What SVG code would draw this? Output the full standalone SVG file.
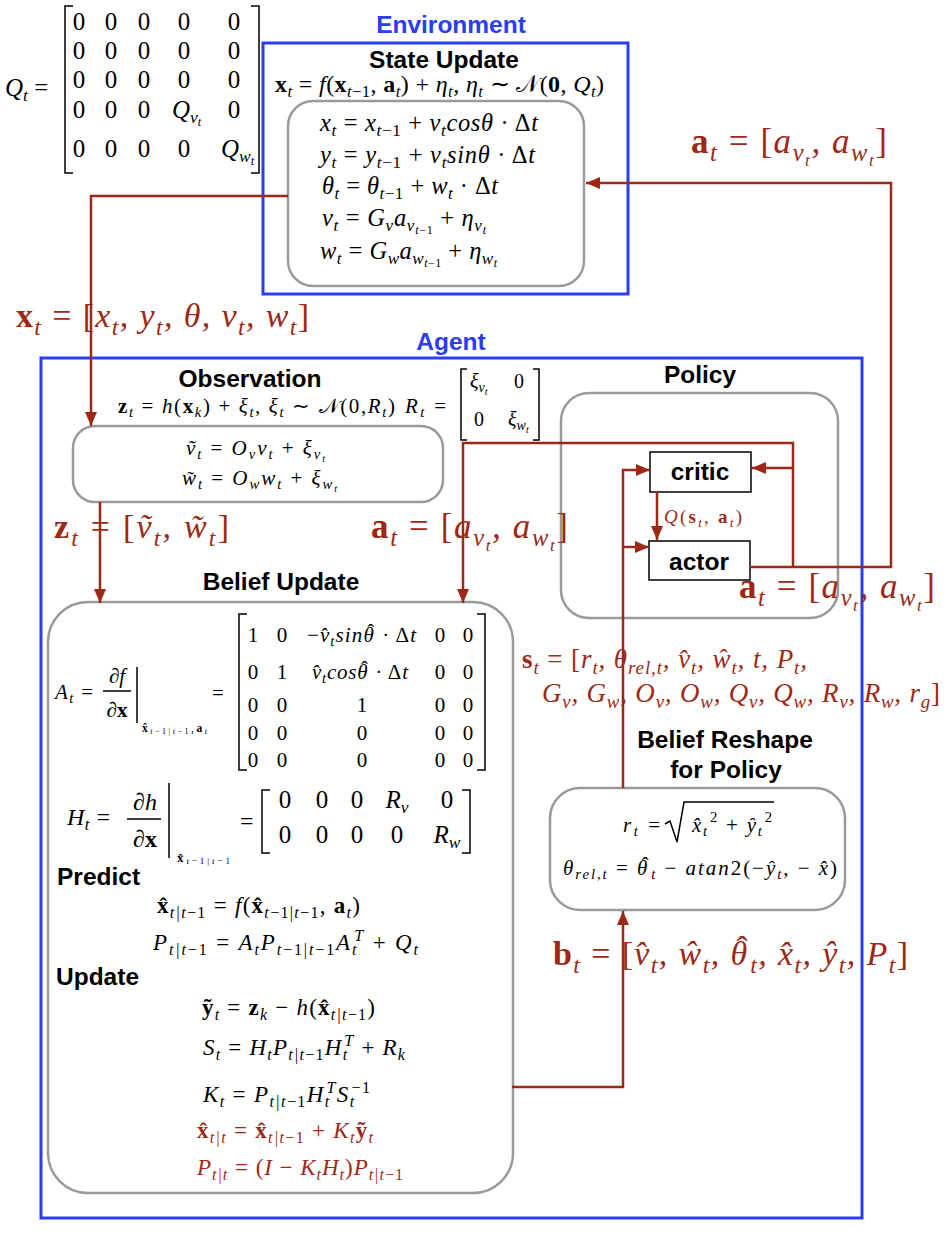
<svg xmlns="http://www.w3.org/2000/svg" width="952" height="1238" viewBox="0 0 952 1238">
<defs>
<style>
.m{font-family:"Liberation Serif","Times New Roman",serif;font-style:italic;fill:#000}
.u{font-style:normal}
.b{font-weight:bold;font-style:normal}
.s{font-size:70%}
.c{text-anchor:middle}
.red{fill:#9d2816}
.lbl{font-family:"Liberation Sans",Arial,sans-serif;font-weight:bold;font-size:24.5px;fill:#000;text-anchor:middle}
.blue{fill:#2b3cf2}
.env{fill:none;stroke:#2b3cf2;stroke-width:3}
.box{fill:none;stroke:#9a9a9a;stroke-width:2.5}
.con{fill:none;stroke:#9d2816;stroke-width:2.5}
.br{fill:none;stroke:#000;stroke-width:1.5}
.nb{fill:#fff;stroke:#000;stroke-width:1.5}
.cal{font-family:"DejaVu Serif","DejaVu Sans","Noto Sans",serif;font-style:normal}
</style>
<marker id="ah" markerUnits="userSpaceOnUse" markerWidth="14" markerHeight="12" refX="14" refY="6" orient="auto"><path d="M0,0 L14,6 L0,12 z" fill="#9d2816" stroke="none"/></marker>
</defs>
<rect width="952" height="1238" fill="#fff"/>

<g id="q-matrix">
<text class="m" x="5" y="96" font-size="25">Q<tspan class="s" dy="5">t</tspan><tspan class="u" dy="-5"> =</tspan></text>
<path class="br" d="M73,6 H65 V173 H73 M251,6 H259 V173 H251"/>
<text class="m u c" x="79 111 144 184 234" y="30" font-size="25">00000</text>
<text class="m u c" x="79 111 144 184 234" y="59" font-size="25">00000</text>
<text class="m u c" x="79 111 144 184 234" y="88" font-size="25">00000</text>
<text class="m u c" x="79 111 144" y="118" font-size="25">000</text>
<text class="m" x="172" y="118" font-size="25">Q<tspan class="s" dy="5">v<tspan class="s" dy="3">t</tspan></tspan></text>
<text class="m u c" x="234" y="118" font-size="25">0</text>
<text class="m u c" x="79 111 144 184" y="157" font-size="25">0000</text>
<text class="m" x="221" y="157" font-size="25">Q<tspan class="s" dy="5">w<tspan class="s" dy="3">t</tspan></tspan></text>
</g>

<g id="environment">
<rect class="env" x="263" y="43" width="365" height="251"/>
<text class="lbl blue" x="451" y="33">Environment</text>
</g>

<g id="state-update">
<text class="lbl" x="444" y="68">State Update</text>
<text class="m" x="275" y="92" font-size="24" textLength="329"><tspan class="b">x</tspan><tspan class="s" dy="5">t</tspan><tspan class="u" dy="-5"> = </tspan>f<tspan class="u">(</tspan><tspan class="b">x</tspan><tspan class="s" dy="5">t<tspan class="u">−1</tspan></tspan><tspan class="u" dy="-5">, </tspan><tspan class="b">a</tspan><tspan class="s" dy="5">t</tspan><tspan class="u" dy="-5">) + </tspan>η<tspan class="s" dy="5">t</tspan><tspan dy="-5">, η</tspan><tspan class="s" dy="5">t</tspan><tspan class="u" dy="-5"> ∼ </tspan><tspan class="cal">𝒩</tspan><tspan class="u">(</tspan><tspan class="b">0</tspan><tspan class="u">, </tspan>Q<tspan class="s" dy="5">t</tspan><tspan class="u" dy="-5">)</tspan></text>
<rect class="box" x="288" y="101" width="296" height="185" rx="25"/>
<text class="m" x="320" y="131" font-size="24.5" textLength="218">x<tspan class="s" dy="5">t</tspan><tspan class="u" dy="-5"> = </tspan>x<tspan class="s" dy="5">t<tspan class="u">−1</tspan></tspan><tspan class="u" dy="-5"> + </tspan>v<tspan class="s" dy="5">t</tspan><tspan dy="-5">cosθ</tspan><tspan class="u"> · Δ</tspan>t</text>
<text class="m" x="320" y="163" font-size="24.5" textLength="215">y<tspan class="s" dy="5">t</tspan><tspan class="u" dy="-5"> = </tspan>y<tspan class="s" dy="5">t<tspan class="u">−1</tspan></tspan><tspan class="u" dy="-5"> + </tspan>v<tspan class="s" dy="5">t</tspan><tspan dy="-5">sinθ</tspan><tspan class="u"> · Δ</tspan>t</text>
<text class="m" x="322" y="194" font-size="24.5" textLength="176">θ<tspan class="s" dy="5">t</tspan><tspan class="u" dy="-5"> = </tspan>θ<tspan class="s" dy="5">t<tspan class="u">−1</tspan></tspan><tspan class="u" dy="-5"> + </tspan>w<tspan class="s" dy="5">t</tspan><tspan class="u" dy="-5"> · Δ</tspan>t</text>
<text class="m" x="322" y="226" font-size="24.5" textLength="164">v<tspan class="s" dy="5">t</tspan><tspan class="u" dy="-5"> = </tspan>G<tspan class="s" dy="5">v</tspan><tspan dy="-5">a</tspan><tspan class="s" dy="5">v<tspan class="s" dy="3">t<tspan class="u">−1</tspan></tspan></tspan><tspan class="u" dy="-8"> + </tspan>η<tspan class="s" dy="5">v<tspan class="s" dy="3">t</tspan></tspan></text>
<text class="m" x="320" y="259" font-size="24.5" textLength="177">w<tspan class="s" dy="5">t</tspan><tspan class="u" dy="-5"> = </tspan>G<tspan class="s" dy="5">w</tspan><tspan dy="-5">a</tspan><tspan class="s" dy="5">w<tspan class="s" dy="3">t<tspan class="u">−1</tspan></tspan></tspan><tspan class="u" dy="-8"> + </tspan>η<tspan class="s" dy="5">w<tspan class="s" dy="3">t</tspan></tspan></text>
</g>

<g id="agent">
<rect class="env" x="41" y="358" width="821" height="860"/>
<text class="lbl blue" x="451" y="350">Agent</text>
</g>

<g id="observation">
<text class="lbl" x="250" y="387">Observation</text>
<text class="m" x="118" y="413" font-size="21" textLength="277"><tspan class="b">z</tspan><tspan class="s" dy="4">t</tspan><tspan class="u" dy="-4"> = </tspan>h<tspan class="u">(</tspan><tspan class="b">x</tspan><tspan class="s" dy="4">k</tspan><tspan class="u" dy="-4">) + </tspan>ξ<tspan class="s" dy="4">t</tspan><tspan dy="-4">, ξ</tspan><tspan class="s" dy="4">t</tspan><tspan class="u" dy="-4"> ∼ </tspan><tspan class="cal">𝒩</tspan><tspan class="u">(0,</tspan>R<tspan class="s" dy="4">t</tspan><tspan class="u" dy="-4">)</tspan></text>
<text class="m" x="405" y="413" font-size="21" textLength="41">R<tspan class="s" dy="4">t</tspan><tspan class="u" dy="-4"> =</tspan></text>
<path class="br" d="M467,369 H461 V440 H467 M533,369 H539 V440 H533"/>
<text class="m" x="470" y="388" font-size="20">ξ<tspan class="s" dy="4">v<tspan class="s" dy="3">t</tspan></tspan></text>
<text class="m u c" x="519" y="388" font-size="20">0</text>
<text class="m u c" x="479" y="426" font-size="20">0</text>
<text class="m" x="508" y="426" font-size="20">ξ<tspan class="s" dy="4">w<tspan class="s" dy="3">t</tspan></tspan></text>
<rect class="box" x="73" y="426" width="370" height="76" rx="22"/>
<text class="m" x="186" y="455" font-size="21" textLength="139">ṽ<tspan class="s" dy="4">t</tspan><tspan class="u" dy="-4"> = </tspan>O<tspan class="s" dy="4">v</tspan><tspan dy="-4">v</tspan><tspan class="s" dy="4">t</tspan><tspan class="u" dy="-4"> + </tspan>ξ<tspan class="s" dy="4">v<tspan class="s" dy="3">t</tspan></tspan></text>
<text class="m" x="182" y="485" font-size="21" textLength="155">w&#x303;<tspan class="s" dy="4">t</tspan><tspan class="u" dy="-4"> = </tspan>O<tspan class="s" dy="4">w</tspan><tspan dy="-4">w</tspan><tspan class="s" dy="4">t</tspan><tspan class="u" dy="-4"> + </tspan>ξ<tspan class="s" dy="4">w<tspan class="s" dy="3">t</tspan></tspan></text>
</g>

<g id="belief-update">
<text class="lbl" x="281" y="590">Belief Update</text>
<rect class="box" x="48" y="602" width="465" height="591" rx="40"/>
<text class="m" x="55" y="699" font-size="21" textLength="38">A<tspan class="s" dy="4">t</tspan><tspan class="u" dy="-4"> =</tspan></text>
<text class="m c" x="117" y="683" font-size="21">∂f</text>
<path class="br" d="M103,691 H131"/>
<text class="m c" x="117" y="717" font-size="21">∂<tspan class="b">x</tspan></text>
<path class="br" d="M137,667 V723"/>
<text class="m" x="142" y="732" font-size="11.5" textLength="65"><tspan class="b">x&#x302;</tspan><tspan class="s" dy="2">t<tspan class="u">−1|</tspan>t<tspan class="u">−1</tspan></tspan><tspan class="u" dy="-2">,</tspan><tspan class="b">a</tspan><tspan class="s" dy="2">t</tspan></text>
<text class="m u" x="212" y="700" font-size="21">=</text>
<path class="br" d="M247,614 H239 V770 H247 M477,614 H485 V770 H477"/>
<text class="m u c" x="253 282" y="642" font-size="21">10</text>
<text class="m" x="307" y="642" font-size="21" textLength="109"><tspan class="u">−</tspan>v&#x302;<tspan class="s" dy="4">t</tspan><tspan dy="-4">sinθ</tspan><tspan class="u" dx="-7.5" dy="-3">ˆ</tspan><tspan class="u" dx="0.5" dy="3"> · Δ</tspan>t</text>
<text class="m u c" x="440 468" y="642" font-size="21">00</text>
<text class="m u c" x="253 282" y="679" font-size="21">01</text>
<text class="m" x="312" y="679" font-size="21" textLength="96">v&#x302;<tspan class="s" dy="4">t</tspan><tspan dy="-4">cosθ</tspan><tspan class="u" dx="-7.5" dy="-3">ˆ</tspan><tspan class="u" dx="0.5" dy="3"> · Δ</tspan>t</text>
<text class="m u c" x="440 468" y="679" font-size="21">00</text>
<text class="m u c" x="253 282 362 440 468" y="712" font-size="21">00100</text>
<text class="m u c" x="253 282 362 440 468" y="740" font-size="21">00000</text>
<text class="m u c" x="253 282 362 440 468" y="767" font-size="21">00000</text>
<text class="m" x="67" y="825" font-size="24" textLength="43">H<tspan class="s" dy="5">t</tspan><tspan class="u" dy="-5"> =</tspan></text>
<text class="m c" x="145" y="810" font-size="24">∂h</text>
<path class="br" d="M127,819 H161"/>
<text class="m c" x="145" y="847" font-size="24">∂<tspan class="b">x</tspan></text>
<path class="br" d="M169,783 V858"/>
<text class="m" x="177" y="862" font-size="13" textLength="53"><tspan class="b">x&#x302;</tspan><tspan class="s" dy="2">t<tspan class="u">−1|</tspan>t<tspan class="u">−1</tspan></tspan></text>
<text class="m u" x="240" y="829" font-size="24">=</text>
<path class="br" d="M270,790 H262 V853 H270 M462,790 H470 V853 H462"/>
<text class="m u c" x="285 322 357" y="808" font-size="25">000</text>
<text class="m c" x="397" y="808" font-size="25">R<tspan class="s" dy="5">v</tspan></text>
<text class="m u c" x="447" y="808" font-size="25">0</text>
<text class="m u c" x="285 322 357 397" y="843" font-size="25">0000</text>
<text class="m c" x="447" y="843" font-size="25">R<tspan class="s" dy="5">w</tspan></text>
<text class="lbl" x="57" y="885" style="text-anchor:start">Predict</text>
<text class="m" x="157" y="913" font-size="23" textLength="203"><tspan class="b">x&#x302;</tspan><tspan class="s" dy="5">t|t<tspan class="u">−1</tspan></tspan><tspan class="u" dy="-5"> = </tspan>f<tspan class="u">(</tspan><tspan class="b">x&#x302;</tspan><tspan class="s" dy="5">t<tspan class="u">−1|</tspan>t<tspan class="u">−1</tspan></tspan><tspan class="u" dy="-5">, </tspan><tspan class="b">a</tspan><tspan class="s" dy="5">t</tspan><tspan class="u" dy="-5">)</tspan></text>
<text class="m" x="153" y="950" font-size="23" textLength="265">P<tspan class="s" dy="5">t|t<tspan class="u">−1</tspan></tspan><tspan class="u" dy="-5"> = </tspan>A<tspan class="s" dy="5">t</tspan><tspan dy="-5">P</tspan><tspan class="s" dy="5">t<tspan class="u">−1|</tspan>t<tspan class="u">−1</tspan></tspan><tspan dy="-5">A</tspan><tspan class="s" dy="5">t</tspan><tspan class="s" dx="-4" dy="-14">T</tspan><tspan class="u" dy="9"> + </tspan>Q<tspan class="s" dy="5">t</tspan></text>
<text class="lbl" x="56" y="985" style="text-anchor:start">Update</text>
<text class="m" x="202" y="1015" font-size="23" textLength="173"><tspan class="b">ỹ</tspan><tspan class="s" dy="5">t</tspan><tspan class="u" dy="-5"> = </tspan><tspan class="b">z</tspan><tspan class="s" dy="5">k</tspan><tspan class="u" dy="-5"> − </tspan>h<tspan class="u">(</tspan><tspan class="b">x&#x302;</tspan><tspan class="s" dy="5">t|t<tspan class="u">−1</tspan></tspan><tspan class="u" dy="-5">)</tspan></text>
<text class="m" x="203" y="1055" font-size="23" textLength="202">S<tspan class="s" dy="5">t</tspan><tspan class="u" dy="-5"> = </tspan>H<tspan class="s" dy="5">t</tspan><tspan dy="-5">P</tspan><tspan class="s" dy="5">t|t<tspan class="u">−1</tspan></tspan><tspan dy="-5">H</tspan><tspan class="s" dy="5">t</tspan><tspan class="s" dx="-4" dy="-14">T</tspan><tspan class="u" dy="9"> + </tspan>R<tspan class="s" dy="5">k</tspan></text>
<text class="m" x="203" y="1102" font-size="23" textLength="167">K<tspan class="s" dy="5">t</tspan><tspan class="u" dy="-5"> = </tspan>P<tspan class="s" dy="5">t|t<tspan class="u">−1</tspan></tspan><tspan dy="-5">H</tspan><tspan class="s" dy="5">t</tspan><tspan class="s" dx="-4" dy="-14">T</tspan><tspan dy="9">S</tspan><tspan class="s" dy="5">t</tspan><tspan class="s u" dx="-4" dy="-14">−1</tspan></text>
<text class="m red" x="197" y="1138" font-size="23" textLength="176"><tspan class="b">x&#x302;</tspan><tspan class="s" dy="5">t|t</tspan><tspan class="u" dy="-5"> = </tspan><tspan class="b">x&#x302;</tspan><tspan class="s" dy="5">t|t<tspan class="u">−1</tspan></tspan><tspan class="u" dy="-5"> + </tspan>K<tspan class="s" dy="5">t</tspan><tspan class="b" dy="-5">ỹ</tspan><tspan class="s" dy="5">t</tspan></text>
<text class="m red" x="197" y="1175" font-size="23" textLength="206">P<tspan class="s" dy="5">t|t</tspan><tspan class="u" dy="-5"> = (</tspan>I<tspan class="u"> − </tspan>K<tspan class="s" dy="5">t</tspan><tspan dy="-5">H</tspan><tspan class="s" dy="5">t</tspan><tspan class="u" dy="-5">)</tspan>P<tspan class="s" dy="5">t|t<tspan class="u">−1</tspan></tspan></text>
</g>

<g id="policy">
<text class="lbl" x="700" y="383">Policy</text>
<rect class="box" x="561" y="393" width="277" height="225" rx="28"/>
</g>

<g id="critic">
<rect class="nb" x="650" y="452" width="101" height="40"/>
<text class="lbl" x="700" y="480">critic</text>
</g>

<g id="actor">
<rect class="nb" x="649" y="541" width="101" height="39"/>
<text class="lbl" x="699" y="570">actor</text>
</g>

<g id="belief-reshape">
<text class="lbl" x="725" y="748">Belief Reshape</text>
<text class="lbl" x="726" y="778">for Policy</text>
<rect class="box" x="550" y="788" width="295" height="122" rx="30"/>
<text class="m" x="623" y="832" font-size="21" textLength="37">r<tspan class="s" dy="4">t</tspan><tspan class="u" dy="-4"> =</tspan></text>
<path class="br" d="M665,824 L670,821 L677,842 L684,802 H774" stroke-width="1.3"/>
<text class="m" x="692" y="832" font-size="21" textLength="80">x&#x302;<tspan class="s" dy="4">t</tspan><tspan class="s u" dx="1" dy="-14">2</tspan><tspan class="u" dy="10"> + </tspan>ŷ<tspan class="s" dy="4">t</tspan><tspan class="s u" dx="1" dy="-14">2</tspan></text>
<text class="m" x="563" y="875" font-size="21" textLength="274">θ<tspan class="s" dy="4">rel,t</tspan><tspan class="u" dy="-4"> = </tspan>θ<tspan class="u" dx="-7.5" dy="-3">ˆ</tspan><tspan class="s" dx="0.5" dy="7">t</tspan><tspan class="u" dy="-4"> − </tspan>atan<tspan class="u">2(−</tspan>ŷ<tspan class="s" dy="4">t</tspan><tspan class="u" dy="-4">, − </tspan>x&#x302;<tspan class="u">)</tspan></text>
</g>

<g id="connectors" class="con">
<path d="M288,196 H91 V426" marker-end="url(#ah)"/>
<path d="M100,502 V603" marker-end="url(#ah)"/>
<path d="M750,567 H891 V183 H586" marker-end="url(#ah)"/>
<path d="M793,567 V443 H463 V603" marker-end="url(#ah)"/>
<path d="M793,468 H752" marker-end="url(#ah)"/>
<path d="M657,492 V540" marker-end="url(#ah)"/>
<path d="M623,788 V470 H650" marker-end="url(#ah)"/>
<path d="M623,547 H649" marker-end="url(#ah)"/>
<path d="M512,1087 H623 V911" marker-end="url(#ah)"/>
</g>

<g id="connector-labels">
<text class="m red" x="16" y="327" font-size="34" textLength="293"><tspan class="b">x</tspan><tspan class="s" dy="8">t</tspan><tspan class="u" dy="-8"> = [</tspan>x<tspan class="s" dy="8">t</tspan><tspan dy="-8">, y</tspan><tspan class="s" dy="8">t</tspan><tspan dy="-8">, θ, v</tspan><tspan class="s" dy="8">t</tspan><tspan dy="-8">, w</tspan><tspan class="s" dy="8">t</tspan><tspan class="u" dy="-8">]</tspan></text>
<text class="m red" x="54" y="538" font-size="34" textLength="175"><tspan class="b">z</tspan><tspan class="s" dy="8">t</tspan><tspan class="u" dy="-8"> = [</tspan>ṽ<tspan class="s" dy="8">t</tspan><tspan dy="-8">, w&#x303;</tspan><tspan class="s" dy="8">t</tspan><tspan class="u" dy="-8">]</tspan></text>
<text class="m red" x="371" y="538" font-size="35" textLength="197"><tspan class="b">a</tspan><tspan class="s" dy="8">t</tspan><tspan class="u" dy="-8"> = [</tspan>a<tspan class="s" dy="8">v<tspan class="s" dy="5">t</tspan></tspan><tspan dy="-13">, a</tspan><tspan class="s" dy="8">w<tspan class="s" dy="5">t</tspan></tspan><tspan class="u" dy="-13">]</tspan></text>
<text class="m red" x="691" y="153" font-size="35" textLength="196"><tspan class="b">a</tspan><tspan class="s" dy="8">t</tspan><tspan class="u" dy="-8"> = [</tspan>a<tspan class="s" dy="8">v<tspan class="s" dy="5">t</tspan></tspan><tspan dy="-13">, a</tspan><tspan class="s" dy="8">w<tspan class="s" dy="5">t</tspan></tspan><tspan class="u" dy="-13">]</tspan></text>
<text class="m red" x="739" y="598" font-size="35" textLength="196"><tspan class="b">a</tspan><tspan class="s" dy="8">t</tspan><tspan class="u" dy="-8"> = [</tspan>a<tspan class="s" dy="8">v<tspan class="s" dy="5">t</tspan></tspan><tspan dy="-13">, a</tspan><tspan class="s" dy="8">w<tspan class="s" dy="5">t</tspan></tspan><tspan class="u" dy="-13">]</tspan></text>
<text class="m red" x="664" y="523" font-size="19" textLength="78">Q<tspan class="u">(</tspan><tspan class="b">s</tspan><tspan class="s" dy="4">t</tspan><tspan class="u" dy="-4">, </tspan><tspan class="b">a</tspan><tspan class="s" dy="4">t</tspan><tspan class="u" dy="-4">)</tspan></text>
<text class="m red" x="522" y="668" font-size="27" textLength="285"><tspan class="b">s</tspan><tspan class="s" dy="6">t</tspan><tspan class="u" dy="-6"> = [</tspan>r<tspan class="s" dy="6">t</tspan><tspan dy="-6">, θ</tspan><tspan class="s" dy="6">rel,t</tspan><tspan dy="-6">, v&#x302;</tspan><tspan class="s" dy="6">t</tspan><tspan dy="-6">, ŵ</tspan><tspan class="s" dy="6">t</tspan><tspan dy="-6">, t, P</tspan><tspan class="s" dy="6">t</tspan><tspan dy="-6">,</tspan></text>
<text class="m red" x="542" y="702" font-size="27" textLength="398">G<tspan class="s" dy="6">v</tspan><tspan dy="-6">, G</tspan><tspan class="s" dy="6">w</tspan><tspan dy="-6">, O</tspan><tspan class="s" dy="6">v</tspan><tspan dy="-6">, O</tspan><tspan class="s" dy="6">w</tspan><tspan dy="-6">, Q</tspan><tspan class="s" dy="6">v</tspan><tspan dy="-6">, Q</tspan><tspan class="s" dy="6">w</tspan><tspan dy="-6">, R</tspan><tspan class="s" dy="6">v</tspan><tspan dy="-6">, R</tspan><tspan class="s" dy="6">w</tspan><tspan dy="-6">, r</tspan><tspan class="s" dy="6">g</tspan><tspan class="u" dy="-6">]</tspan></text>
<text class="m red" x="553" y="965" font-size="34" textLength="355"><tspan class="b">b</tspan><tspan class="s" dy="8">t</tspan><tspan class="u" dy="-8"> = [</tspan>v&#x302;<tspan class="s" dy="8">t</tspan><tspan dy="-8">, ŵ</tspan><tspan class="s" dy="8">t</tspan><tspan dy="-8">, θ</tspan><tspan class="u" dx="-12" dy="-5">ˆ</tspan><tspan class="s" dx="1" dy="13">t</tspan><tspan dy="-8">, x&#x302;</tspan><tspan class="s" dy="8">t</tspan><tspan dy="-8">, ŷ</tspan><tspan class="s" dy="8">t</tspan><tspan dy="-8">, P</tspan><tspan class="s" dy="8">t</tspan><tspan class="u" dy="-8">]</tspan></text>
</g>
</svg>
